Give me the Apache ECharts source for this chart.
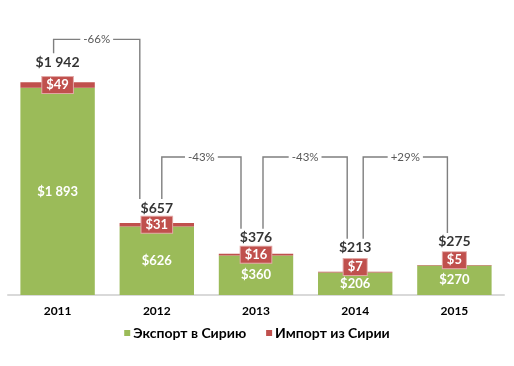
<!DOCTYPE html>
<html><head><meta charset="utf-8">
<script src="https://cdn.jsdelivr.net/npm/echarts@6/dist/echarts.min.js"></script>
<style>html,body{margin:0;padding:0;background:#fff}#c{width:514px;height:366px}</style>
</head><body><div id="c"></div>
<script>
const categories = ['2011', '2012', '2013', '2014', '2015'];
const exportVals = [1893, 626, 360, 206, 270];
const importVals = [49, 31, 16, 7, 5];
const totals = [1942, 657, 376, 213, 275];
const changeLabels = ['-66%', '-43%', '-43%', '+29%'];
const seriesNames = ['Экспорт в Сирию', 'Импорт из Сирии'];

const FONT = 'Lato, "Liberation Sans", sans-serif';
const GREEN = '#9bbb59', RED = '#c0504d';
function fmt(v) { return '$' + String(v).replace(/\B(?=(\d{3})+(?!\d))/g, ' '); }

// style: vertical gap of total labels above the bar stacks
const totalGap = [13, 8, 9, 17, 16];
const legL = [-4, 5, 7, 8], legR = [-17, -15, -8, -7];
const BRACKET_Y = 157;

const chart = echarts.init(document.getElementById('c'));
chart.setOption({
  animation: false,
  textStyle: { fontFamily: FONT },
  grid: { left: 8, right: 10, top: 76, bottom: 71 },
  legend: {
    data: seriesNames, bottom: 21, left: 'center', icon: 'rect', itemWidth: 6, itemHeight: 6,
    itemGap: 20, textStyle: { fontFamily: FONT, fontWeight: 'bold', fontSize: 14, color: '#000', padding: [0, 0, 0, -2] }
  },
  xAxis: {
    type: 'category', data: categories,
    axisLine: { lineStyle: { color: '#d9d9d9', width: 2 } }, axisTick: { show: false },
    axisLabel: { color: '#000', fontWeight: 'bold', fontSize: 12, margin: 10, fontFamily: FONT }
  },
  yAxis: { type: 'value', min: 0, max: 2000, show: false, splitLine: { show: false } },
  series: [
    {
      name: seriesNames[0], type: 'bar', stack: 't', barWidth: '75%', data: exportVals,
      itemStyle: { color: GREEN },
      label: { show: true, position: 'inside', color: '#fff', fontWeight: 'bold', fontSize: 13, fontFamily: FONT, formatter: p => fmt(p.value) }
    },
    {
      name: seriesNames[1], type: 'bar', stack: 't', barWidth: '75%',
      data: importVals.map(v => ({ value: v, label: { offset: [0, v < 10 ? -5 : 0] } })),
      itemStyle: { color: RED },
      label: {
        show: true, position: 'inside', color: '#fff', fontWeight: 'bold', fontSize: 13, fontFamily: FONT,
        backgroundColor: RED, borderColor: '#e3a9a7', borderWidth: 1, padding: [2, 4, 1, 4],
        formatter: p => fmt(p.value)
      }
    },
    {
      name: 'total', type: 'scatter', symbolSize: 0, z: 5,
      data: totals.map((v, i) => ({ value: v, label: { distance: totalGap[i] } })),
      label: { show: true, position: 'top', color: '#000', fontWeight: 'bold', fontSize: 14, fontFamily: FONT, formatter: p => fmt(p.value) }
    },
    {
      name: 'change', type: 'custom', clip: false, z: 4,
      data: changeLabels.map((t, i) => [i, totals[i]]),
      renderItem: function (params, api) {
        const i = params.dataIndex;
        const a = api.coord([i, totals[i]]), b = api.coord([i + 1, totals[i + 1]]);
        const la = a[1] - totalGap[i] - 8, lb = b[1] - totalGap[i + 1] - 8;
        const yTop = Math.min(Math.min(la, lb) - 22, BRACKET_Y);
        const xL = a[0] + legL[i], xR = b[0] + legR[i];
        return {
          type: 'group', children: [
            { type: 'polyline', shape: { points: [[xL, la - 8], [xL, yTop], [xR, yTop], [xR, lb - 8]] },
              style: { stroke: '#7f7f7f', lineWidth: 1.4, fill: null } },
            { type: 'text', style: { text: changeLabels[i], x: (xL + xR) / 2, y: yTop, align: 'center', verticalAlign: 'middle',
              fill: '#595959', font: '11.5px ' + FONT, backgroundColor: '#fff', padding: [0, 3] } }
          ]
        };
      }
    }
  ]
});
</script></body></html>
